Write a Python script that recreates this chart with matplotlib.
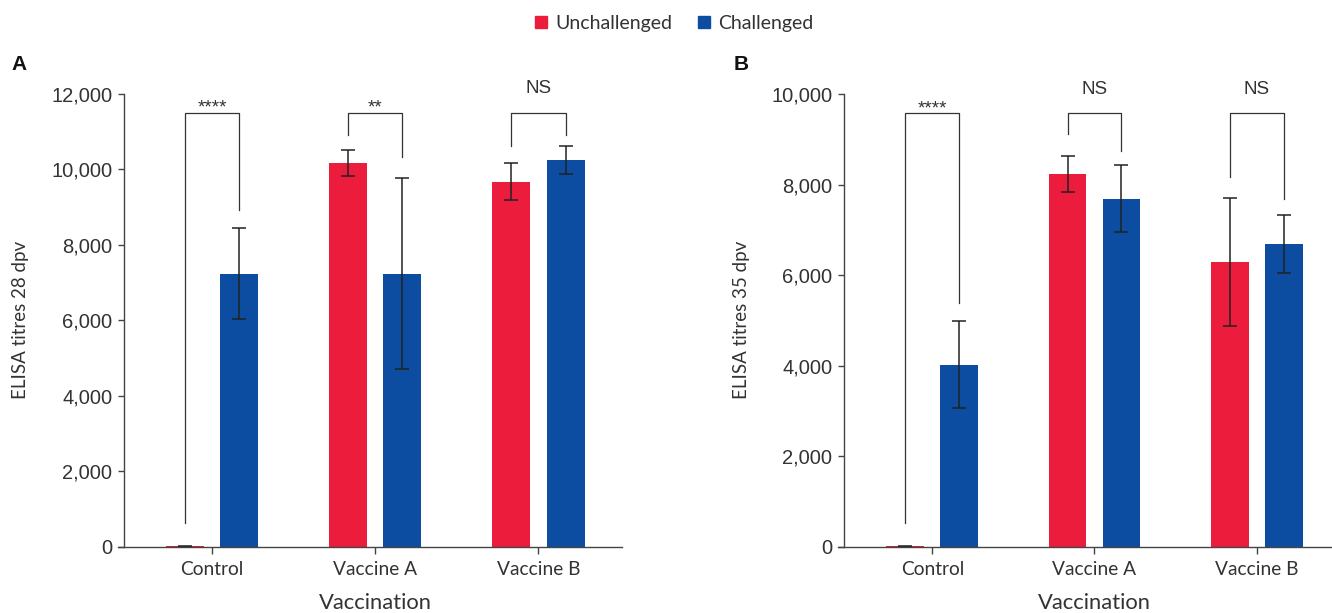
import matplotlib
matplotlib.use("Agg")
import matplotlib.pyplot as plt
from matplotlib.patches import Patch
import numpy as np

# ---------------------------------------------------------------------------
# Data
# ---------------------------------------------------------------------------
groups = ["Control", "Vaccine A", "Vaccine B"]

a_unch = [15, 10170, 9670]
a_unch_err = [15, 350, 490]
a_chal = [7240, 7240, 10250]
a_chal_err = [1210, 2530, 370]

b_unch = [12, 8230, 6290]
b_unch_err = [12, 390, 1415]
b_chal = [4020, 7690, 6680]
b_chal_err = [960, 735, 640]

# significance brackets: top height, left/right leg ends, label
a_br_top = 11500
a_br_legs = [(640, 8920), (10910, 10340), (10630, 10910)]
a_br_lab = ["****", "**", "NS"]
b_br_top = 9570
b_br_legs = [(530, 5380), (9110, 8740), (8160, 7690)]
b_br_lab = ["****", "NS", "NS"]

RED = "#EC1C3C"
BLUE = "#0C4DA2"
AX_COL = "#444444"
TXT = "#333333"
NUM_FONT = "Liberation Sans"
LAB_FONT = "Lato"

W, H = 1332, 613
fig = plt.figure(figsize=(W / 100, H / 100), dpi=100)

OFF = 0.166
BW = 0.233


def panel(rect_px, xlim, ymax, ystep, unch, unch_err, chal, chal_err,
          br_top, br_legs, br_lab, ylabel, ylab_x):
    l, r, b, t = rect_px
    ax = fig.add_axes([l / W, 1 - b / H, (r - l) / W, (b - t) / H])
    x = np.arange(len(groups))
    ekw = dict(ecolor="#222222", elinewidth=1.1, capsize=5.2, capthick=1.1)
    ax.bar(x - OFF, unch, BW, color=RED, yerr=unch_err, error_kw=ekw, zorder=2)
    ax.bar(x + OFF, chal, BW, color=BLUE, yerr=chal_err, error_kw=ekw, zorder=2)

    for xi, (lo_l, lo_r), lab in zip(x, br_legs, br_lab):
        xl, xr = xi - OFF, xi + OFF
        ax.plot([xl, xl, xr, xr], [lo_l, br_top, br_top, lo_r],
                color="#333333", lw=0.9, zorder=3, clip_on=False)
        if lab == "NS":
            ax.annotate(lab, (xi, br_top), xytext=(0, 17.5), textcoords="offset points",
                        ha="center", va="center", fontsize=13.5, color=TXT,
                        family=NUM_FONT, annotation_clip=False)
        else:
            ax.annotate(lab, (xi, br_top), xytext=(0, 0.3), textcoords="offset points",
                        ha="center", va="baseline", fontsize=13.5, color=TXT,
                        family=NUM_FONT, annotation_clip=False)

    ax.set_xlim(*xlim)
    ax.set_ylim(0, ymax)
    yt = np.arange(0, ymax + 1, ystep)
    ax.set_yticks(yt, [f"{v:,}" for v in yt])
    ax.set_xticks(x, groups)

    for s in ["top", "right"]:
        ax.spines[s].set_visible(False)
    ax.spines["left"].set_position(("axes", 6 / (r - l)))
    for s in ["left", "bottom"]:
        ax.spines[s].set_color(AX_COL)
        ax.spines[s].set_linewidth(1.0)
    ax.tick_params(axis="y", direction="out", length=4.5, width=1.0, color=AX_COL, pad=4,
                   labelsize=14.5, labelcolor=TXT, labelfontfamily=NUM_FONT)
    ax.tick_params(axis="x", direction="out", length=5, width=1.0, color=AX_COL, pad=5,
                   labelsize=13.8, labelcolor=TXT, labelfontfamily=LAB_FONT)

    # x label centred on the middle category, as in the reference
    ax.set_xlabel("Vaccination", family=LAB_FONT, fontsize=15.8, color=TXT)
    ax.xaxis.label.set_va("center")
    ax.xaxis.set_label_coords((1 - xlim[0]) / (xlim[1] - xlim[0]), -0.124)
    ax.set_ylabel(ylabel, family=LAB_FONT, fontsize=13.5, color=TXT)
    ax.yaxis.label.set_va("center")
    ax.yaxis.set_label_coords((ylab_x - l) / (r - l), 0.5)
    return ax


axA = panel((118, 622, 546.7, 94), (-0.576, 2.512), 12000, 2000,
            a_unch, a_unch_err, a_chal, a_chal_err,
            a_br_top, a_br_legs, a_br_lab, "ELISA titres 28 dpv", 20.5)
axB = panel((838, 1332, 546.7, 94), (-0.581, 2.464), 10000, 2000,
            b_unch, b_unch_err, b_chal, b_chal_err,
            b_br_top, b_br_legs, b_br_lab, "ELISA titres 35 dpv", 742)

fig.text(11 / W, 1 - 64 / H, "A", fontsize=15, fontweight="bold", family=NUM_FONT,
         va="center", ha="left", color="#111111")
fig.text(734 / W, 1 - 64 / H, "B", fontsize=15, fontweight="bold", family=NUM_FONT,
         va="center", ha="left", color="#111111")

handles = [Patch(color=RED, label="Unchallenged"), Patch(color=BLUE, label="Challenged")]
leg = fig.legend(handles=handles, loc="center", bbox_to_anchor=(0.5064, 1 - 23.5 / H),
                 ncol=2, frameon=False, handlelength=0.6, handleheight=0.6,
                 handletextpad=0.45, columnspacing=1.3,
                 prop={"family": LAB_FONT, "size": 14})
for t in leg.get_texts():
    t.set_color(TXT)

fig.savefig("out.png", dpi=100)
